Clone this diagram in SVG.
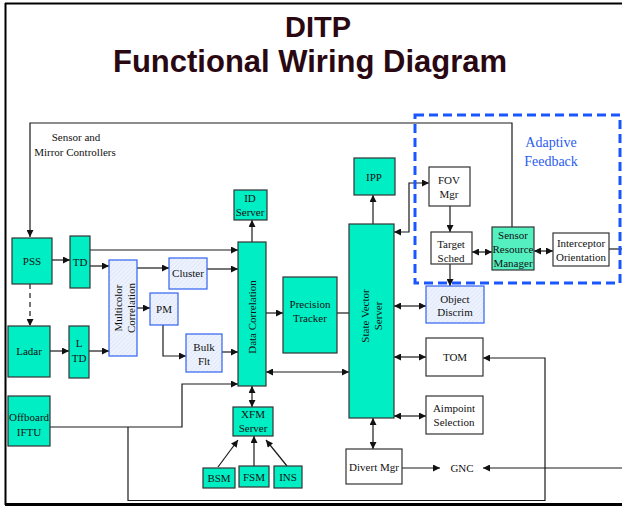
<svg xmlns="http://www.w3.org/2000/svg" width="622" height="506" viewBox="0 0 622 506">
<style>
.n{fill:#00eec4;stroke:#333;stroke-width:1.2}
.s{fill:#55f0c0;stroke:#333;stroke-width:1.2}
.w{fill:#fff;stroke:#333;stroke-width:1.2}
.h{fill:url(#hatch);stroke:#2f62f0;stroke-width:1.2}
.t{font-family:"Liberation Serif","Times New Roman",serif;font-size:11px;fill:#111;text-anchor:middle}
.c line,.c polyline{stroke:#1a1a1a;stroke-width:1.2;fill:none}
.ttl{font-family:"Liberation Sans",Arial,sans-serif;font-weight:bold;fill:#2a0812;text-anchor:middle}
</style>
<defs>
<marker id="ah" viewBox="0 0 10 10" refX="10" refY="5" markerWidth="8" markerHeight="7" markerUnits="userSpaceOnUse" orient="auto-start-reverse">
<path d="M0,0 L10,5 L0,10 z" fill="#111"/>
</marker>
<pattern id="hatch" width="3" height="3" patternUnits="userSpaceOnUse" patternTransform="rotate(45)">
<rect width="3" height="3" fill="#edf2fd"/>
<line x1="0" y1="0" x2="0" y2="3" stroke="#d3def5" stroke-width="1"/>
</pattern>
</defs>
<rect width="622" height="506" fill="#fff"/>
<g id="frame">
<line x1="5.5" y1="3" x2="5.5" y2="505" stroke="#000" stroke-width="2"/>
<line x1="5" y1="3.5" x2="622" y2="3.5" stroke="#000" stroke-width="2"/>
<rect x="5" y="503" width="617" height="3" fill="#000"/>
</g>
<g id="title">
<text class="ttl" x="318" y="37" font-size="30" textLength="66" lengthAdjust="spacingAndGlyphs">DITP</text>
<text class="ttl" x="310" y="72" font-size="32" textLength="394" lengthAdjust="spacingAndGlyphs">Functional Wiring Diagram</text>
</g>
<g id="connectors" class="c">
<polyline points="512,227 512,123 30,123 30,237" marker-end="url(#ah)"/>
<line x1="52" y1="260" x2="70" y2="260" marker-end="url(#ah)"/>
<line x1="90" y1="250" x2="238" y2="250" marker-end="url(#ah)"/>
<line x1="90" y1="266" x2="109" y2="266" marker-end="url(#ah)"/>
<line x1="137" y1="268" x2="169" y2="268" marker-end="url(#ah)"/>
<line x1="207" y1="269" x2="238" y2="269" marker-end="url(#ah)"/>
<line x1="137" y1="308" x2="150" y2="308" marker-end="url(#ah)"/>
<polyline points="163,325 163,356 186,356" marker-end="url(#ah)"/>
<line x1="222" y1="352" x2="238" y2="352" marker-end="url(#ah)"/>
<line x1="30" y1="284" x2="30" y2="326" stroke-dasharray="5,4" marker-end="url(#ah)"/>
<line x1="50" y1="351" x2="69" y2="351" marker-end="url(#ah)"/>
<line x1="89" y1="351" x2="109" y2="351" marker-end="url(#ah)"/>
<polyline points="50,427 182,427 182,384 238,384" marker-end="url(#ah)"/>
<polyline points="128,427 128,500.5 545,500.5 545,358 483,358" marker-end="url(#ah)"/>
<line x1="252" y1="386" x2="252" y2="407" marker-start="url(#ah)" marker-end="url(#ah)"/>
<line x1="218" y1="467" x2="238" y2="440" marker-end="url(#ah)"/>
<line x1="254" y1="466" x2="254" y2="436" marker-end="url(#ah)"/>
<line x1="287" y1="466" x2="266" y2="440" marker-end="url(#ah)"/>
<line x1="252" y1="242" x2="252" y2="220" marker-end="url(#ah)"/>
<line x1="266" y1="313" x2="283" y2="313" marker-end="url(#ah)"/>
<line x1="337" y1="313" x2="349" y2="313"/>
<line x1="266" y1="372" x2="349" y2="372" marker-start="url(#ah)" marker-end="url(#ah)"/>
<line x1="373" y1="224" x2="373" y2="195" marker-end="url(#ah)"/>
<polyline points="394,232 409,232 409,183 429,183" marker-start="url(#ah)" marker-end="url(#ah)"/>
<line x1="450" y1="206" x2="450" y2="232" marker-end="url(#ah)"/>
<line x1="450" y1="264" x2="450" y2="286" marker-end="url(#ah)"/>
<line x1="394" y1="306" x2="426" y2="306" marker-start="url(#ah)" marker-end="url(#ah)"/>
<line x1="472" y1="252" x2="492" y2="252" marker-start="url(#ah)" marker-end="url(#ah)"/>
<line x1="534" y1="251" x2="553" y2="251" marker-start="url(#ah)" marker-end="url(#ah)"/>
<line x1="609" y1="249" x2="622" y2="249"/>
<line x1="394" y1="357" x2="426" y2="357" marker-start="url(#ah)" marker-end="url(#ah)"/>
<line x1="394" y1="416" x2="426" y2="416" marker-start="url(#ah)" marker-end="url(#ah)"/>
<line x1="373" y1="418" x2="373" y2="449" marker-start="url(#ah)" marker-end="url(#ah)"/>
<line x1="402" y1="468" x2="440" y2="468" marker-end="url(#ah)"/>
<line x1="622" y1="468" x2="483" y2="468" marker-end="url(#ah)"/>
</g>
<g id="adaptive-feedback">
<rect x="415" y="115" width="205" height="168" fill="none" stroke="#1a56ff" stroke-width="3" stroke-dasharray="9,5"/>
<text x="551" y="147" font-family="Liberation Serif, serif" font-size="14" fill="#2a5cf0" text-anchor="middle">Adaptive</text>
<text x="551" y="166" font-family="Liberation Serif, serif" font-size="14" fill="#2a5cf0" text-anchor="middle">Feedback</text>
</g>
<g id="label-sensor"><text class="t" x="76" y="141" font-size="10.5">Sensor and</text><text class="t" x="75" y="156" font-size="10.5">Mirror Controllers</text></g>
<g id="pss"><rect class="n" x="12" y="238" width="40" height="46"/><text class="t" x="32" y="265">PSS</text></g>
<g id="td"><rect class="n" x="70" y="236" width="20" height="52"/><text class="t" x="80" y="266">TD</text></g>
<g id="ladar"><rect class="n" x="8" y="326" width="42" height="51"/><text class="t" x="29" y="355">Ladar</text></g>
<g id="ltd"><rect class="n" x="69" y="326" width="20" height="52"/><text class="t" x="79" y="347">L</text><text class="t" x="79" y="362">TD</text></g>
<g id="offboard"><rect class="n" x="8" y="396" width="42" height="50"/><text class="t" x="29" y="421">Offboard</text><text class="t" x="29" y="436">IFTU</text></g>
<g id="multicolor"><rect class="h" x="109" y="260" width="28" height="96"/><text class="t" transform="translate(122,308) rotate(-90)">Multicolor</text><text class="t" transform="translate(135,308) rotate(-90)">Correlation</text></g>
<g id="cluster"><rect class="h" x="169" y="258" width="38" height="31"/><text class="t" x="188" y="277">Cluster</text></g>
<g id="pm"><rect class="h" x="150" y="293" width="28" height="32"/><text class="t" x="164" y="313">PM</text></g>
<g id="bulkflt"><rect class="h" x="186" y="334" width="36" height="38"/><text class="t" x="204" y="351">Bulk</text><text class="t" x="204" y="365">Flt</text></g>
<g id="datacorr"><rect class="n" x="238" y="242" width="28" height="144"/><text class="t" transform="translate(256,317) rotate(-90)">Data Correlation</text></g>
<g id="idserver"><rect class="n" x="234" y="190" width="33" height="30"/><text class="t" x="250" y="202">ID</text><text class="t" x="250" y="216">Server</text></g>
<g id="xfm"><rect class="n" x="233" y="407" width="40" height="29"/><text class="t" x="253" y="418">XFM</text><text class="t" x="253" y="432">Server</text></g>
<g id="bsm"><rect class="n" x="203" y="468" width="32" height="20"/><text class="t" x="219" y="482">BSM</text></g>
<g id="fsm"><rect class="n" x="239" y="466" width="30" height="21"/><text class="t" x="254" y="481">FSM</text></g>
<g id="ins"><rect class="n" x="274" y="466" width="28" height="22"/><text class="t" x="288" y="481">INS</text></g>
<g id="tracker"><rect class="n" x="283" y="277" width="54" height="76"/><text class="t" x="310" y="308">Precision</text><text class="t" x="310" y="322">Tracker</text></g>
<g id="svs"><rect class="n" x="349" y="224" width="45" height="194"/><text class="t" transform="translate(369,316) rotate(-90)">State Vector</text><text class="t" transform="translate(382,316) rotate(-90)">Server</text></g>
<g id="ipp"><rect class="n" x="354" y="158" width="41" height="37"/><text class="t" x="374" y="181">IPP</text></g>
<g id="fov"><rect class="w" x="429" y="167" width="41" height="39"/><text class="t" x="449" y="184">FOV</text><text class="t" x="449" y="198">Mgr</text></g>
<g id="targetsched"><rect class="w" x="431" y="232" width="41" height="32"/><text class="t" x="451" y="248">Target</text><text class="t" x="451" y="262">Sched</text></g>
<g id="srm"><rect class="s" x="492" y="227" width="42" height="43"/><text class="t" x="513" y="239">Sensor</text><text class="t" x="513" y="253">Resource</text><text class="t" x="513" y="267">Manager</text></g>
<g id="interceptor"><rect class="w" x="553" y="233" width="56" height="33"/><text class="t" x="581" y="247">Interceptor</text><text class="t" x="581" y="261">Orientation</text></g>
<g id="objdiscrim"><rect class="h" x="426" y="286" width="58" height="37"/><text class="t" x="455" y="303">Object</text><text class="t" x="455" y="316">Discrim</text></g>
<g id="tom"><rect class="w" x="426" y="338" width="57" height="38"/><text class="t" x="455" y="361">TOM</text></g>
<g id="aimpoint"><rect class="w" x="426" y="396" width="57" height="38"/><text class="t" x="454" y="412">Aimpoint</text><text class="t" x="454" y="426">Selection</text></g>
<g id="divert"><rect class="w" x="346" y="449" width="56" height="35"/><text class="t" x="374" y="471">Divert Mgr</text></g>
<g id="gnc"><text class="t" x="462" y="472">GNC</text></g>
</svg>
